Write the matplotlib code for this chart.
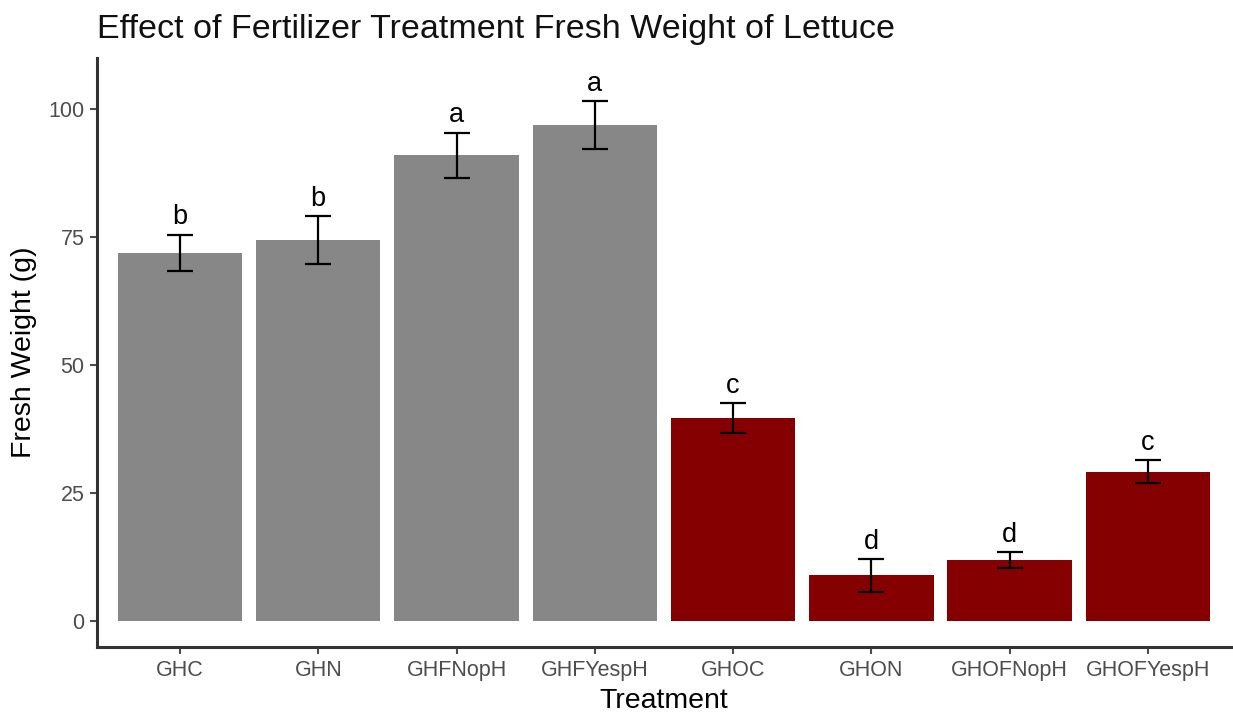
import matplotlib
matplotlib.use("Agg")
import matplotlib.pyplot as plt
import numpy as np

plt.rcParams['font.family'] = ['Liberation Sans', 'DejaVu Sans']

# data
treatments = ["GHC", "GHN", "GHFNopH", "GHFYespH", "GHOC", "GHON", "GHOFNopH", "GHOFYespH"]
fresh_weight = [71.9, 74.4, 91.0, 96.9, 39.7, 8.9, 11.9, 29.2]
se = [3.6, 4.75, 4.4, 4.6, 2.9, 3.2, 1.5, 2.15]
letters = ["b", "b", "a", "a", "c", "d", "d", "c"]
bar_colors = ["#878787"] * 4 + ["#850000"] * 4

fig = plt.figure(figsize=(12.33, 7.15), dpi=100)
ax = fig.add_axes([0.0787, 0.095, 0.9195, 0.824])

x = np.arange(1, len(treatments) + 1)
ax.bar(x, fresh_weight, width=0.9, color=bar_colors, zorder=2)
ax.errorbar(x, fresh_weight, yerr=se, fmt="none", ecolor="black",
            elinewidth=1.6, capsize=9.7, capthick=1.6, zorder=3)

# significance letters
for xi, m, s, lab in zip(x, fresh_weight, se, letters):
    ax.text(xi, m + s + 2.0, lab, ha="center", va="baseline", fontsize=19.5, color="black")

ax.set_xlim(0.4, 8.6)
ax.set_ylim(-5.1, 110)
ax.set_xticks(x)
ax.set_xticklabels(treatments)
ax.set_yticks([0, 25, 50, 75, 100])

ax.tick_params(axis="both", colors="#4d4d4d", labelsize=15.5, length=5, width=1.5, pad=4)

for side in ["top", "right"]:
    ax.spines[side].set_visible(False)
for side in ["left", "bottom"]:
    ax.spines[side].set_linewidth(2.2)
    ax.spines[side].set_color("#333333")

ax.set_xlabel("Treatment", fontsize=20.5, labelpad=5)
ax.set_ylabel("Fresh Weight (g)", fontsize=20.5, labelpad=8)
ax.set_title("Effect of Fertilizer Treatment Fresh Weight of Lettuce", fontsize=24.5,
             loc="left", x=0.0, pad=14, color="#111111")

fig.savefig("out.png", dpi=100)
